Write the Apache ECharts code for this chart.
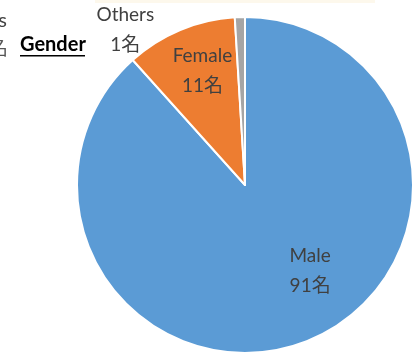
<!DOCTYPE html>
<html><head><meta charset="utf-8">
<script src="https://cdn.jsdelivr.net/npm/echarts@6/dist/echarts.min.js"></script>
<style>html,body{margin:0;padding:0;background:#fff}#c{width:418px;height:353px}</style>
</head><body><div id="c"></div>
<script>
const categories = ['Male', 'Female', 'Others'];
const counts = [91, 11, 1];
const unit = '名';
const colors = ['#5b9bd5', '#ed7d31', '#a5a5a5'];
const title = 'Gender';

const chart = echarts.init(document.getElementById('c'), null, {renderer: 'canvas'});
const labelShift = {
  Male: [34, 5],
  Female: [-9, -34],
  Others: [-117, -68]
};
chart.setOption({
  animation: false,
  backgroundColor: '#fff',
  graphic: [
    {type: 'rect', shape: {x: 95, y: 0, width: 280, height: 3}, style: {fill: '#fdf8ec'}, silent: true},
    {type: 'text', left: 20, top: 35, style: {text: title, font: 'bold 20px Lato, "Open Sans", sans-serif', fill: '#000'}},
    {type: 'rect', shape: {x: 20, y: 55, width: 65, height: 1.5}, style: {fill: '#000'}},
    {type: 'text', right: 411, top: 11, style: {text: 's', font: '20px Lato, sans-serif', fill: '#444', align: 'right'}},
    {type: 'text', right: 410, top: 38, style: {text: '名', font: '19px "Noto Sans CJK JP", sans-serif', fill: '#555', align: 'right'}}
  ],
  series: [{
    type: 'pie',
    center: [245, 185],
    radius: [0, 168],
    startAngle: 90,
    clockwise: true,
    itemStyle: {borderColor: '#fff', borderWidth: 2},
    label: {
      show: true,
      position: 'inside',
      formatter: p => p.name + '\n' + p.value + unit,
      color: '#404040',
      fontSize: 19,
      lineHeight: 30,
      fontFamily: 'Lato, "Noto Sans CJK JP", sans-serif'
    },
    labelLine: {show: false},
    labelLayout: p => {
      const name = categories[p.dataIndex];
      const s = labelShift[name];
      return {dx: s[0], dy: s[1]};
    },
    data: categories.map((c, i) => ({name: c, value: counts[i], itemStyle: {color: colors[i]}}))
  }]
});
</script></body></html>
